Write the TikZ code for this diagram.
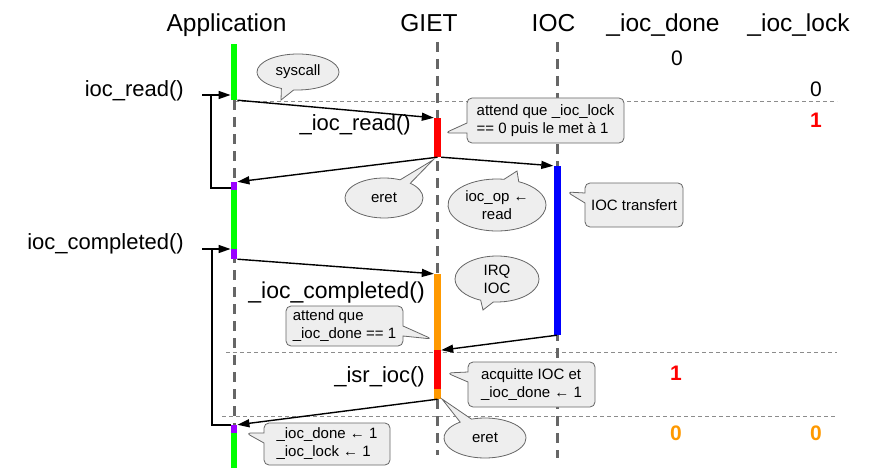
\documentclass[tikz,border=0pt]{standalone}
\usepackage{fontspec}
\setmainfont{Liberation Sans}
\usetikzlibrary{arrows.meta,shapes.callouts,shapes.geometric}
\definecolor{appgreen}{RGB}{0,255,0}
\definecolor{vio}{RGB}{153,0,255}
\definecolor{orng}{RGB}{255,153,0}
\definecolor{redc}{RGB}{255,0,0}
\definecolor{bluec}{RGB}{0,0,255}
\definecolor{lifegray}{RGB}{102,102,102}
\definecolor{boxfill}{RGB}{238,238,238}
\definecolor{boxline}{RGB}{102,102,102}
\begin{document}
\begin{tikzpicture}[x=1pt,y=-1pt,
 hdr/.style={font=\fontsize{24.5}{28}\selectfont,inner sep=0pt,anchor=base},
 fn/.style={font=\fontsize{22}{26}\selectfont,inner sep=0pt,anchor=base east},
 val/.style={font=\fontsize{21}{24}\selectfont,inner sep=0pt},
 bval/.style={font=\fontsize{21}{24}\selectfont\bfseries,inner sep=0pt},
 lifeline/.style={draw=lifegray,line width=3pt,dash pattern=on 10pt off 7pt},
 sepline/.style={draw=black!45,line width=0.8pt,dash pattern=on 4pt off 3pt},
 msg/.style={draw=black,line width=1.4pt,-{Triangle[length=12pt,width=8pt]}},
 plainline/.style={draw=black,line width=1.4pt},
 bar/.style={rectangle,inner sep=0pt,minimum width=6.5pt,draw=none},
 bubble/.style={ellipse callout,draw=boxline,fill=boxfill,line width=0.8pt,inner sep=0pt,font=\fontsize{15}{18}\selectfont,align=center,callout pointer arc=18},
 note/.style={rectangle callout,draw=boxline,fill=boxfill,line width=0.8pt,rounded corners=5pt,inner sep=0pt,font=\fontsize{15}{18}\selectfont,align=left,callout pointer width=10pt},
]
\useasboundingbox (0,0) rectangle (872,468);

% headers
\node[hdr] (hApp) at (226.5,32) {Application};
\node[hdr] (hGiet) at (429,32) {GIET};
\node[hdr] (hIoc) at (553.5,32) {IOC};
\node[hdr] (hDone) at (663,32) {\_ioc\_done};
\node[hdr] (hLock) at (798.5,32) {\_ioc\_lock};

% separators
\draw[sepline] (235,101.5) -- (837,101.5);
\draw[sepline] (226,352) -- (837,352);
\draw[sepline] (222,416.5) -- (837,416.5);

% lifelines
\draw[lifeline] (234,100) -- (234,468);
\draw[lifeline] (437.5,42) -- (437.5,455);
\draw[lifeline] (557,42) -- (557,458);

% activation bars
\node[bar,fill=appgreen,minimum height=56pt] (a1) at (234,72) {};
\node[bar,fill=vio,minimum height=8pt] (a2) at (234,186) {};
\node[bar,fill=appgreen,minimum height=59pt] (a2g) at (234,219.5) {};
\node[bar,fill=vio,minimum height=10pt] (a3) at (234,254) {};
\node[bar,fill=vio,minimum height=8pt] (a5) at (234,429) {};
\node[bar,fill=appgreen,minimum height=35pt] (a6) at (234,450.5) {};
\node[bar,fill=redc,minimum width=7pt,minimum height=39pt] (g1) at (437.5,137.5) {};
\node[bar,fill=orng,minimum width=7pt,minimum height=76pt] (g2) at (437.5,312) {};
\node[bar,fill=redc,minimum width=7pt,minimum height=39pt] (g3) at (437.5,369.5) {};
\node[bar,fill=orng,minimum width=7pt,minimum height=10pt] (g4) at (437.5,394) {};
\node[bar,fill=bluec,minimum width=7pt,minimum height=169pt] (i1) at (557,250.5) {};

% left brackets
\coordinate (r0) at (202,95);
\coordinate (r1) at (211,95);
\coordinate (r2) at (211,188);
\coordinate (c0) at (202,249);
\coordinate (c1) at (212,249);
\coordinate (c2) at (212,425);
\draw[msg] (r0) -- (r0 -| a1.west);
\draw[plainline] (r1) -- (r2) -- (r2 -| a2.west);
\draw[msg] (c0) -- (c0 -| a3.west);
\draw[plainline] (c1) -- (c2) -- (c2 -| a5.west);

% messages
\draw[msg] (a1.south east) -- (g1.north west);
\draw[msg] (g1.south) -- (a2.north east);
\draw[msg] (g1.south east) -- (i1.north west);
\draw[msg] (a3.south east) -- (g2.north west);
\draw[msg] (i1.south) -- (g2.south east);
\draw[msg] (g4.south) -- (a5.north east);

% function labels
\node[fn] (lRead) at (184,97) {ioc\_read()};
\node[fn] (lComp) at (184,249) {ioc\_completed()};
\node[fn] (lKRead) at (411,130) {\_ioc\_read()};
\node[fn,font=\fontsize{23}{26}\selectfont] (lKComp) at (425,298) {\_ioc\_completed()};
\node[fn] (lIsr) at (425,382) {\_isr\_ioc()};

% callouts
\node[bubble,minimum width=82pt,minimum height=36pt,callout absolute pointer={(281,100)}] (cSys) at (298,72) {syscall};
\node[bubble,minimum width=78pt,minimum height=40pt,callout absolute pointer={(433,160)}] (cEret1) at (384,198) {eret};
\node[bubble,minimum width=98pt,minimum height=52pt,callout absolute pointer={(517,171)}] (cOp) at (497,205) {ioc\_op ←\\read};
\node[bubble,minimum width=84pt,minimum height=46pt,callout absolute pointer={(483,310)}] (cIrq) at (497,279) {IRQ\\IOC};
\node[bubble,minimum width=82pt,minimum height=40pt,callout absolute pointer={(442,399)}] (cEret2) at (485,438) {eret};

\node[note,minimum width=157pt,minimum height=45pt,callout absolute pointer={(445,133)}] (nLock) at (545.5,120.5) {attend que \_ioc\_lock\\== 0 puis le met à 1};
\node[note,minimum width=98pt,minimum height=44pt,callout absolute pointer={(567,192)}] (nXfer) at (634,205) {IOC transfert};
\node[note,minimum width=117pt,minimum height=40pt,callout absolute pointer={(432,339)}] (nDone) at (344.5,326) {attend que\\\_ioc\_done == 1};
\node[note,minimum width=127pt,minimum height=45pt,callout absolute pointer={(447,373)}] (nAck) at (531.5,384.5) {acquitte IOC et\\\_ioc\_done ← 1};
\node[note,minimum width=126pt,minimum height=42pt,callout absolute pointer={(246,433)}] (nSet) at (327,444) {\_ioc\_done ← 1\\\_ioc\_lock ← 1};

% values
\node[val] (v1) at (677,58) {0};
\node[val] (v2) at (816,89) {0};
\node[bval,text=redc] (v3) at (816,120) {1};
\node[bval,text=redc] (v4) at (676,373) {1};
\node[bval,text=orng] (v5) at (676,433) {0};
\node[bval,text=orng] (v6) at (816,433) {0};
\end{tikzpicture}
\end{document}
